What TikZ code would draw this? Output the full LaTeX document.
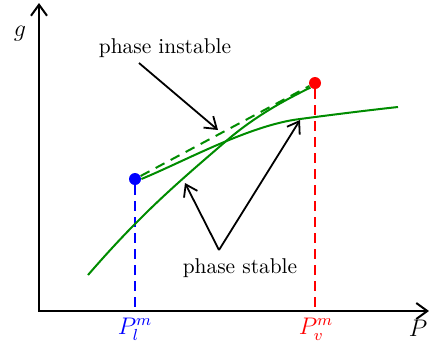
\documentclass[tikz,border=0pt]{standalone}
\usetikzlibrary{arrows.meta}
\definecolor{mygreen}{RGB}{0,140,0}
\begin{document}
\begin{tikzpicture}[x=0.5pt,y=-0.5pt,
  axis/.style={line width=1pt,{Straight Barb[length=5.5pt,width=8pt]}-{Straight Barb[length=5.5pt,width=8pt]}},
  arr/.style={line width=0.9pt,-{Straight Barb[length=5.5pt,width=7.5pt]}},
  curve/.style={mygreen,line width=1pt},
  gdash/.style={mygreen,line width=1pt,dash pattern=on 5pt off 3.5pt},
  vdash/.style={line width=1pt,dash pattern=on 5pt off 3pt},
  dot/.style={circle,inner sep=0pt,minimum size=6pt},
  lbl/.style={font=\fontsize{10.7}{13}\selectfont,inner sep=1pt},
  mlbl/.style={font=\fontsize{11.5}{13}\selectfont,inner sep=0pt}]
\useasboundingbox (0,0) rectangle (429,345);
% axes
\coordinate (O) at (39,311);
\coordinate (ytop) at (39,3);
\coordinate (xend) at (429,311);
\draw[axis] (ytop) -- (O) -- (xend);
\node[mlbl] (glab) at (20,34) {$g$};
\node[mlbl] (plab) at (418,328) {$P$};
% points
\node[dot,fill=blue] (bl) at (135,179) {};
\node[dot,fill=red] (rd) at (315,83) {};
\coordinate (blx) at (135,309);
\coordinate (rdx) at (315,309);
\draw[vdash,blue] (bl) -- (blx);
\draw[vdash,red] (rd) -- (rdx);
\node[mlbl,text=blue] (plm) at (135,329) {$P_l^m$};
\node[mlbl,text=red] (pvm) at (316,329) {$P_v^m$};
% curves
\draw[curve] (88,275) .. controls (140,215) and (175,185) .. (225,142)
  .. controls (255,116) and (285,100) .. (rd.south west);
\draw[curve] (bl.east) .. controls (185,161) and (250,125) .. (300,119)
  .. controls (330,115) and (370,110) .. (398,107);
\draw[gdash] (bl) -- (rd);
% labels and arrows
\node[lbl] (inst) at (165,48) {phase instable};
\node[lbl] (stab) at (240,268) {phase stable};
\coordinate (a1s) at (139,63);
\coordinate (a1e) at (218,130);
\draw[arr] (a1s) -- (a1e);
\coordinate (v) at (219,250);
\coordinate (a2e) at (185,183);
\coordinate (a3e) at (300,120);
\draw[arr] (v) -- (a2e);
\draw[arr] (v) -- (a3e);
\end{tikzpicture}
\end{document}
